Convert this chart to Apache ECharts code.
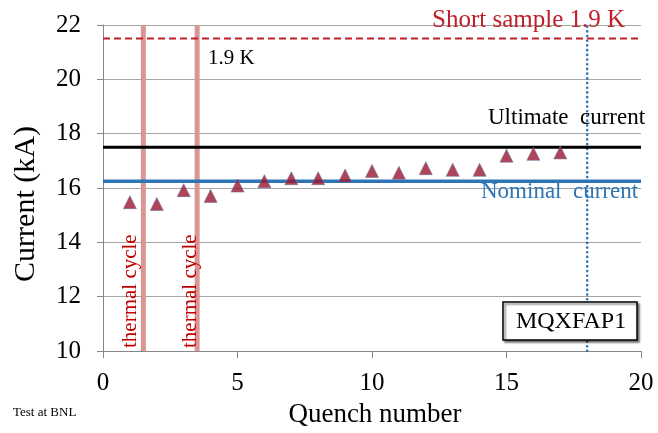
<!DOCTYPE html>
<html><head><meta charset="utf-8">
<script src="https://cdn.jsdelivr.net/npm/echarts@6/dist/echarts.min.js"></script>
<style>html,body{margin:0;padding:0;background:#fff}#c{width:658px;height:433px}</style>
</head><body><div id="c"></div>
<script>
const quench = [1,2,3,4,5,6,7,8,9,10,11,12,13,14,15,16,17];
const current = [15.48,15.41,15.92,15.71,16.09,16.25,16.36,16.36,16.46,16.63,16.56,16.73,16.67,16.67,17.19,17.26,17.31];
const shortSample = 21.5;
const ultimate = 17.5;
const nominal = 16.25;
const thermalCycles = [1.5, 3.5];
const testEnd = 18;
const xRange = [0, 20];
const yRange = [10, 22];

const F = '"Liberation Serif", "Times New Roman", serif';
const hLine = (v, color, width, type) => ({
  type: 'line', data: [[xRange[0], v], [xRange[1], v]], symbol: 'none', silent: true,
  lineStyle: {color, width, type}, z: 3
});
const vLine = (x, color, width, type, cap) => ({
  type: 'line', data: [[x, yRange[0]], [x, yRange[1]]], symbol: 'none', silent: true,
  lineStyle: {color, width, type, cap: cap || 'butt'}, z: 2
});

const series = [
  hLine(shortSample, '#c0202a', 2, [7, 4]),
  hLine(ultimate, '#000000', 3, 'solid'),
  hLine(nominal, '#2e75b6', 3.5, 'solid'),
  ...thermalCycles.map(x => vLine(x, '#d99694', 5, 'solid')),
  vLine(testEnd, '#2e75b6', 2.6, [0.1, 4.6], 'round'),
  {
    type: 'scatter', symbol: 'triangle', symbolSize: 13,
    data: quench.map((q, i) => [q, current[i]]),
    itemStyle: {color: '#9b1530', borderColor: '#6c6f9a', borderWidth: 0.7}, z: 5
  }
];

const chart = echarts.init(document.getElementById('c'));
chart.setOption({
  animation: false,
  grid: {left: 103, right: 17, top: 25, bottom: 82},
  xAxis: {
    type: 'value', min: xRange[0], max: xRange[1], interval: 5,
    axisLine: {lineStyle: {color: '#888', width: 1}},
    axisTick: {show: true, inside: false, length: 7, lineStyle: {color: '#888'}},
    axisLabel: {fontFamily: F, fontSize: 25, color: '#000', margin: 20},
    splitLine: {show: false}
  },
  yAxis: {
    type: 'value', min: yRange[0], max: yRange[1], interval: 2,
    axisLine: {show: true, lineStyle: {color: '#888', width: 1}},
    axisTick: {show: true, inside: false, length: 6, lineStyle: {color: '#888'}},
    axisLabel: {fontFamily: F, fontSize: 25, color: '#000', margin: 22},
    splitLine: {show: true, lineStyle: {color: '#a6a6a6', width: 1}}
  },
  series,
  graphic: [
    {type: 'text', x: 375, y: 415, style: {text: 'Quench number', font: '27px ' + F, fill: '#000', textAlign: 'center', textVerticalAlign: 'middle'}, z: 10},
    {type: 'text', x: 26, y: 204, rotation: Math.PI / 2, style: {text: 'Current (kA)', font: '30px ' + F, fill: '#000', textAlign: 'center', textVerticalAlign: 'middle'}, z: 10},
    {type: 'text', x: 432, y: 20, style: {text: 'Short sample 1.9 K', font: '25px ' + F, fill: '#c0202a', textVerticalAlign: 'middle'}, z: 10},
    {type: 'text', x: 208, y: 58, style: {text: '1.9 K', font: '21px ' + F, fill: '#000', textVerticalAlign: 'middle'}, z: 10},
    {type: 'text', x: 488, y: 118, style: {text: 'Ultimate  current', font: '23px ' + F, fill: '#000', textVerticalAlign: 'middle'}, z: 10},
    {type: 'text', x: 481, y: 192, style: {text: 'Nominal  current', font: '23px ' + F, fill: '#2e75b6', textVerticalAlign: 'middle'}, z: 10},
    {type: 'text', x: 130, y: 348, rotation: Math.PI / 2, style: {text: 'thermal cycle', font: '21px ' + F, fill: '#c00000', textAlign: 'left', textVerticalAlign: 'middle'}, z: 10},
    {type: 'text', x: 190, y: 348, rotation: Math.PI / 2, style: {text: 'thermal cycle', font: '21px ' + F, fill: '#c00000', textAlign: 'left', textVerticalAlign: 'middle'}, z: 10},
    {type: 'rect', shape: {x: 503, y: 302, width: 134, height: 38}, style: {fill: '#fff', stroke: '#000', lineWidth: 1.5, shadowBlur: 2, shadowOffsetX: 2, shadowOffsetY: 2, shadowColor: 'rgba(0,0,0,0.5)'}, z: 10},
    {type: 'text', x: 571, y: 322, style: {text: 'MQXFAP1', font: '24px ' + F, fill: '#000', textAlign: 'center', textVerticalAlign: 'middle'}, z: 11},
    {type: 'text', x: 13, y: 413, style: {text: 'Test at BNL', font: '13px ' + F, fill: '#000', textVerticalAlign: 'middle'}, z: 10}
  ]
});
</script></body></html>
